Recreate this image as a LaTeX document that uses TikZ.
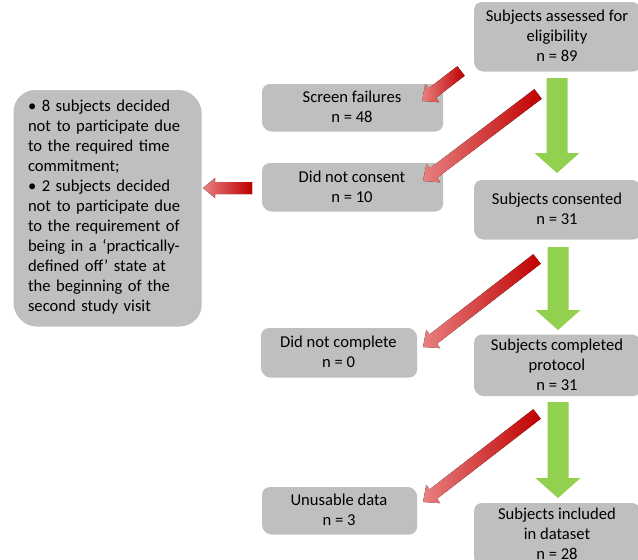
\documentclass[tikz,border=0pt]{standalone}
\usepackage{fontspec}
\setmainfont{Carlito}
\usetikzlibrary{calc, shadows}
\definecolor{boxgray}{RGB}{191, 191, 191}
\definecolor{flowgreen}{RGB}{146, 208, 80}
\definecolor{exitdark}{RGB}{192, 0, 0}
\definecolor{exitlight}{RGB}{232, 128, 128}

% block arrow: style, tail, tip, half shaft, half head, head length
\newcommand{\fatarrow}[6]{%
  \coordinate (hb) at ($(#3)!#6!(#2)$);
  \fill[#1] ($(#2)!#4!90:(#3)$) -- ($(hb)!#4!90:(#3)$) -- ($(hb)!#5!90:(#3)$)
    -- (#3) -- ($(hb)!#5!-90:(#3)$) -- ($(hb)!#4!-90:(#3)$) -- ($(#2)!#4!-90:(#3)$) -- cycle;
}

\begin{document}
\begin{tikzpicture}[
    x=1pt, y=-1pt,
    flowbox/.style={rectangle, rounded corners=8pt, fill=boxgray, inner sep=1pt,
                    align=center, font=\fontsize{16.6}{20}\selectfont,
                    drop shadow={shadow xshift=1.2pt, shadow yshift=-1.5pt, opacity=0.25, fill=black}},
    notebox/.style={flowbox, rounded corners=22pt, align=left},
    keeparrow/.style={fill=flowgreen},
    exitarrow/.style={left color=exitlight, right color=exitdark}
]
\useasboundingbox (0, 0) rectangle (638, 560);

% Main flow (right column)
\node[flowbox, minimum width=166pt, minimum height=68pt] (assessed) at (557, 36)
    {Subjects assessed for\\eligibility\\n = 89};
\node[flowbox, minimum width=166pt, minimum height=58pt] (consented) at (557, 209)
    {Subjects consented\\n = 31};
\node[flowbox, minimum width=166pt, minimum height=60pt] (completed) at (557, 364.5)
    {Subjects completed\\protocol\\n = 31};
\node[flowbox, minimum width=166pt, minimum height=62pt] (included) at (557, 534)
    {Subjects included\\in dataset\\n = 28};

% Exclusions (middle column)
\node[flowbox, minimum width=180pt, minimum height=46pt] (screen) at (352, 107)
    {Screen failures\\n = 48};
\node[flowbox, minimum width=180pt, minimum height=47pt] (noconsent) at (352, 186.5)
    {Did not consent\\n = 10};
\node[flowbox, minimum width=155pt, minimum height=48pt] (nocomplete) at (338.5, 352)
    {Did not complete\\n = 0};
\node[flowbox, minimum width=154pt, minimum height=46pt] (unusable) at (339, 510)
    {Unusable data\\n = 3};

% Reasons for not consenting
\node[notebox, minimum width=187pt, minimum height=235pt, text width=158pt] (reasons) at (107, 207.5)
    {• 8 subjects decided\\not to participate due\\to the required time\\commitment;\\
     • 2 subjects decided\\not to participate due\\to the requirement of\\being in a ‘practically-\\defined off’ state at\\the beginning of the\\second study visit};

% Arrow ends
\coordinate (g1a) at (557, 78);   \coordinate (g1b) at (557, 173);
\coordinate (g2a) at (558, 247);  \coordinate (g2b) at (558, 330);
\coordinate (g3a) at (558, 402);  \coordinate (g3b) at (558, 498);
\coordinate (r1a) at (461, 71);   \coordinate (r1b) at (422, 101);
\coordinate (r2a) at (538, 94);   \coordinate (r2b) at (423, 181);
\coordinate (r3a) at (537, 259);  \coordinate (r3b) at (423, 347);
\coordinate (r4a) at (537, 414);  \coordinate (r4b) at (423, 502);
\coordinate (rha) at (252, 188);  \coordinate (rhb) at (203, 188);

% Green arrows
\fatarrow{keeparrow}{g1a}{g1b}{10.5pt}{22.5pt}{20pt}
\fatarrow{keeparrow}{g2a}{g2b}{10.5pt}{22.5pt}{20pt}
\fatarrow{keeparrow}{g3a}{g3b}{10.5pt}{22.5pt}{20pt}

% Red arrows
\fatarrow{exitarrow}{r1a}{r1b}{6pt}{11.5pt}{13pt}
\fatarrow{exitarrow}{r2a}{r2b}{6pt}{11.5pt}{13pt}
\fatarrow{exitarrow}{r3a}{r3b}{6pt}{11.5pt}{13pt}
\fatarrow{exitarrow}{r4a}{r4b}{6pt}{11.5pt}{13pt}
\fatarrow{exitarrow}{rha}{rhb}{6pt}{10pt}{12pt}

\end{tikzpicture}
\end{document}
